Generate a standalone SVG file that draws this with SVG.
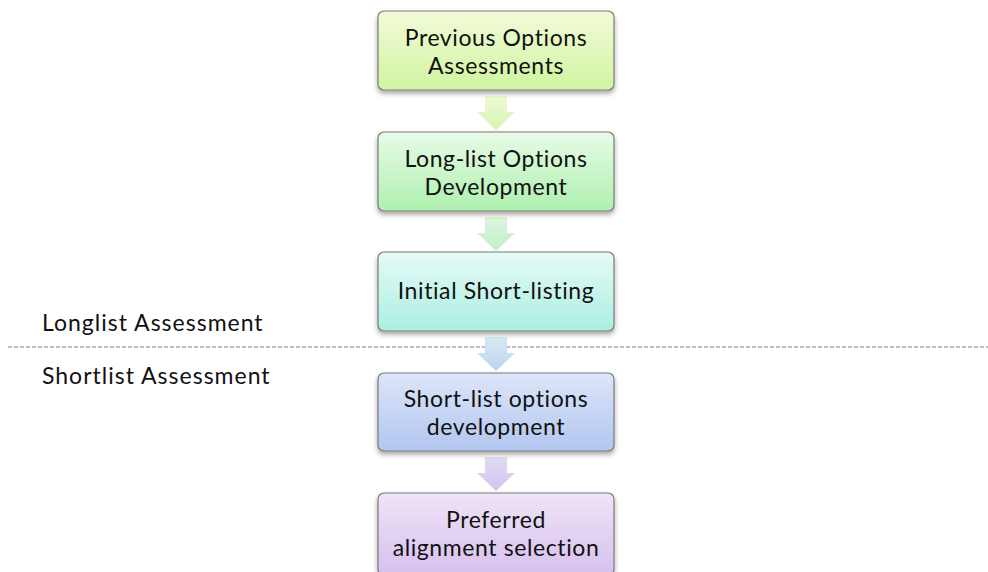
<svg xmlns="http://www.w3.org/2000/svg" width="988" height="572" viewBox="0 0 988 572">
<defs>
<linearGradient id="g1" x1="0" y1="0" x2="0" y2="1"><stop offset="0" stop-color="#f2fbd8"/><stop offset="1" stop-color="#d0f4a0"/></linearGradient>
<linearGradient id="g2" x1="0" y1="0" x2="0" y2="1"><stop offset="0" stop-color="#e8fbe8"/><stop offset="1" stop-color="#aef0ae"/></linearGradient>
<linearGradient id="g3" x1="0" y1="0" x2="0" y2="1"><stop offset="0" stop-color="#e6fbf7"/><stop offset="1" stop-color="#aaeee0"/></linearGradient>
<linearGradient id="g4" x1="0" y1="0" x2="0" y2="1"><stop offset="0" stop-color="#dde6f9"/><stop offset="1" stop-color="#b2c6f0"/></linearGradient>
<linearGradient id="g5" x1="0" y1="0" x2="0" y2="1"><stop offset="0" stop-color="#efe4f8"/><stop offset="1" stop-color="#d6c0ee"/></linearGradient>
<linearGradient id="a1" x1="0" y1="0" x2="0" y2="1"><stop offset="0" stop-color="#eef9d4"/><stop offset="1" stop-color="#d6f4b4"/></linearGradient>
<linearGradient id="a2" x1="0" y1="0" x2="0" y2="1"><stop offset="0" stop-color="#dcf6dc"/><stop offset="1" stop-color="#c2eec8"/></linearGradient>
<linearGradient id="a3" x1="0" y1="0" x2="0" y2="1"><stop offset="0" stop-color="#d8eaf4"/><stop offset="1" stop-color="#bcd4ee"/></linearGradient>
<linearGradient id="a4" x1="0" y1="0" x2="0" y2="1"><stop offset="0" stop-color="#e0dcf4"/><stop offset="1" stop-color="#d4c4ee"/></linearGradient>
<filter id="sh" x="-10%" y="-10%" width="120%" height="130%"><feDropShadow dx="0" dy="3" stdDeviation="2.5" flood-color="#000" flood-opacity="0.35"/></filter>
</defs>
<style>
.box{stroke:#7a7a7a;stroke-width:1.2;filter:url(#sh)}
.t{font-family:Lato,"Open Sans",sans-serif;font-size:23px;fill:#111;text-anchor:middle;letter-spacing:0.6px}
.lab{font-family:Lato,"Open Sans",sans-serif;font-size:23px;fill:#111;letter-spacing:1px}
</style>
<g id="connectors">
<line x1="8" y1="347" x2="988" y2="347" stroke="#a8a8a8" stroke-width="1.3" stroke-dasharray="4,2"/>
<path d="M485,96 H507 V112 H515 L496,130 L477,112 H485 Z" fill="url(#a1)"/>
<path d="M485,217 H507 V233 H515 L496,251 L477,233 H485 Z" fill="url(#a2)"/>
<path d="M485,337 H507 V353 H515 L496,371 L477,353 H485 Z" fill="url(#a3)"/>
<path d="M485,457 H507 V473 H515 L496,491 L477,473 H485 Z" fill="url(#a4)"/>
</g>
<g id="n1"><rect class="box" x="378" y="11" width="236" height="79" rx="6" fill="url(#g1)"/><text class="t" x="496" y="46">Previous Options</text><text class="t" x="496" y="74">Assessments</text></g>
<g id="n2"><rect class="box" x="378" y="132" width="236" height="79" rx="6" fill="url(#g2)"/><text class="t" x="496" y="167">Long-list Options</text><text class="t" x="496" y="195">Development</text></g>
<g id="n3"><rect class="box" x="378" y="252" width="236" height="79" rx="6" fill="url(#g3)"/><text class="t" x="496" y="299">Initial Short-listing</text></g>
<g id="n4"><rect class="box" x="378" y="373" width="236" height="78" rx="6" fill="url(#g4)"/><text class="t" x="496" y="407">Short-list options</text><text class="t" x="496" y="435">development</text></g>
<g id="n5"><rect class="box" x="378" y="493" width="236" height="82" rx="6" fill="url(#g5)"/><text class="t" x="496" y="528">Preferred</text><text class="t" x="496" y="556">alignment selection</text></g>
<g id="labels"><text class="lab" x="42" y="331">Longlist Assessment</text><text class="lab" x="42" y="384">Shortlist Assessment</text></g>
</svg>
